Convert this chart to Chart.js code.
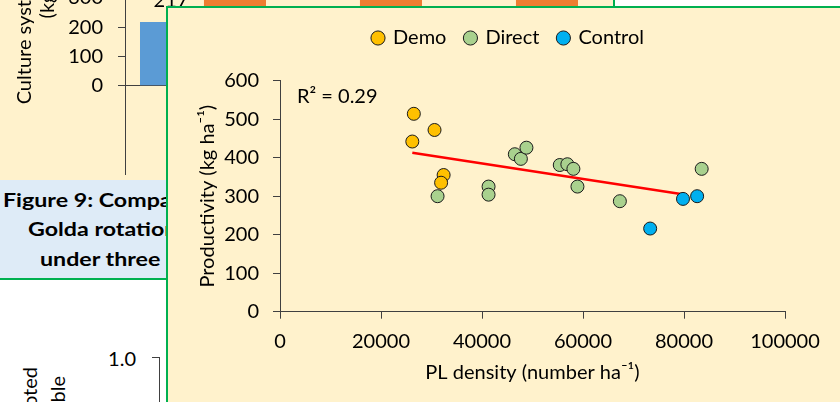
<!DOCTYPE html>
<html><head><meta charset="utf-8">
<script src="https://cdn.jsdelivr.net/npm/chart.js@4.4.1/dist/chart.umd.min.js"></script>
<style>
html,body{margin:0;padding:0;background:#fff;}
body{width:840px;height:402px;overflow:hidden;position:relative;font-family:Lato,"Liberation Sans",sans-serif;color:#000;}
.abs{position:absolute;}
#yel{left:0;top:0;width:613px;height:180px;background:#FFF2CC;border-right:2px solid #00B050;z-index:0;}
#bgwrap{left:0;top:-235px;width:613px;height:436px;z-index:1;}
#cap{left:0;top:180px;width:615px;height:98px;background:#DEEBF7;border-bottom:2px solid #00B050;overflow:hidden;z-index:2;}
.capl{position:absolute;font-weight:bold;font-size:19.5px;white-space:nowrap;line-height:19px;transform:scaleX(1.19);transform-origin:0 0;}
.rot{position:absolute;width:300px;height:24px;line-height:24px;font-size:20px;white-space:nowrap;text-align:right;transform:rotate(-90deg);transform-origin:0 0;z-index:2;}
#one{left:96px;top:346px;width:40px;height:24px;line-height:24px;font-size:20px;text-align:right;z-index:2;}
#tick1{left:152px;top:357px;width:8px;height:1px;background:#404040;z-index:2;}
#axis1{left:159px;top:357px;width:1px;height:60px;background:#404040;z-index:2;}
#box{left:166px;top:6px;width:700px;height:420px;background:#FFF2CC;border:2px solid #00B050;box-sizing:border-box;z-index:3;}
#mainwrap{left:169px;top:9px;width:671px;height:393px;z-index:4;}
</style>
</head>
<body>
<div id="yel" class="abs"></div>
<div id="bgwrap" class="abs"><canvas id="bg" width="613" height="436"></canvas></div>
<div id="cap" class="abs">
  <div class="capl" style="left:3px;top:10px;">Figure 9: Comparison of culture</div>
  <div class="capl" style="left:28px;top:39px;">Golda rotation</div>
  <div class="capl" style="left:40px;top:69px;">under three</div>
</div>
<div id="one" class="abs">1.0</div>
<div id="tick1" class="abs"></div>
<div id="axis1" class="abs"></div>
<div class="rot" style="left:17px;top:667px;">Proportion promoted</div>
<div class="rot" style="left:45px;top:676px;">of applicable</div>
<div id="box" class="abs"></div>
<div id="mainwrap" class="abs"><canvas id="main" width="671" height="393"></canvas></div>

<script>
// ---------- main scatter data ----------
const demoX    = [26500, 30600, 26200, 32400, 31900];
const demoY    = [514, 472, 442, 355, 335];
const directX  = [31200, 41300, 41300, 46500, 47700, 48800, 55400, 56900, 58100, 58900, 67300, 83500];
const directY  = [300, 325, 304, 409, 397, 426, 381, 383, 371, 325, 287, 371];
const controlX = [73300, 79800, 82600];
const controlY = [216, 293, 300];
const trendX   = [26200, 79700];
const trendY   = [413, 305];
const xTickValues = [0, 20000, 40000, 60000, 80000, 100000];
const yTickValues = [0, 100, 200, 300, 400, 500, 600];
const rSquaredLabel = 'R\u00B2 = 0.29';

// ---------- background (partially hidden) bar chart data ----------
const bgCategories = ['Demo', 'Direct', 'Control'];
const bgSeriesNames = ['Golda', 'Rotation'];
const bgSeriesA = [217, 250, 245];
const bgSeriesB = [560, 610, 585];
const bgYTicks = [-300, -200, -100, 0, 100, 200, 300, 400, 500, 600, 700, 800, 900, 1000];

const FONT = 'Lato, "Liberation Sans", sans-serif';
Chart.defaults.font.family = FONT;
Chart.defaults.font.size = 20;
Chart.defaults.color = '#000';
const AX = '#404040';

function pts(xs, ys){ return xs.map((x, i) => ({x: x, y: ys[i]})); }

// background bar chart
const barLabels = {
  id: 'barLabels',
  afterDatasetsDraw(chart){
    const ctx = chart.ctx;
    ctx.save();
    ctx.font = '20px ' + FONT;
    ctx.fillStyle = '#000';
    ctx.textAlign = 'center';
    ctx.textBaseline = 'alphabetic';
    chart.data.datasets.forEach((ds, i) => {
      chart.getDatasetMeta(i).data.forEach((el, j) => {
        ctx.fillText(String(ds.data[j]), el.x, el.y - 15);
      });
    });
    ctx.restore();
  }
};

new Chart(document.getElementById('bg'), {
  type: 'bar',
  data: {
    labels: bgCategories,
    datasets: [
      {label: bgSeriesNames[0], data: bgSeriesA, backgroundColor: '#5B9BD5', categoryPercentage: 0.82, barPercentage: 0.97},
      {label: bgSeriesNames[1], data: bgSeriesB, backgroundColor: '#ED7D31', categoryPercentage: 0.82, barPercentage: 0.97}
    ]
  },
  options: {
    responsive: false, animation: false,
    layout: {padding: {left: 0, right: 20, top: 0, bottom: 0}},
    plugins: {legend: {display: false}, tooltip: {enabled: false}},
    scales: {
      x: {position: {y: 0}, grid: {display: false}, border: {display: true, color: AX}, ticks: {display: false},
          afterFit: s => { s.height = 0; }},
      y: {
        min: -300, max: 1000,
        afterBuildTicks: s => { s.ticks = bgYTicks.map(v => ({value: v})); },
        ticks: {callback: v => (v >= 0 ? String(v) : ''), padding: 15, color: '#000', font: {size: 20}},
        grid: {drawOnChartArea: false, drawTicks: true, tickLength: 7, color: AX,
               tickColor: c => (c.tick && c.tick.value < 0) ? 'rgba(0,0,0,0)' : AX},
        border: {display: true, color: AX},
        title: {display: true, text: ['Culture system productivity', '(kg ha\u207B\u00B9)'], color: '#000',
                font: {size: 20, lineHeight: 1.15}, padding: {top: 13, bottom: 4}},
        afterFit: s => { s.width = 125; }
      }
    }
  },
  plugins: [barLabels]
});

// main scatter chart
const LEGEND_HEIGHT = 71.7;
const legendFix = {
  id: 'legendFix',
  beforeLayout(chart){
    const lg = chart.legend;
    if (lg && !lg.__fixed){
      const f = lg.fit.bind(lg);
      lg.fit = function(){
        f();
        this.height = LEGEND_HEIGHT;
        if (this.lineWidths && this.lineWidths.length) this.lineWidths[0] -= 40;
      };
      lg.__fixed = true;
    }
  }
};
const r2Plugin = {
  id: 'r2',
  afterDatasetsDraw(chart){
    const {ctx, chartArea} = chart;
    ctx.save();
    ctx.font = '20px ' + FONT;
    ctx.fillStyle = '#000';
    ctx.textAlign = 'left';
    ctx.textBaseline = 'alphabetic';
    ctx.fillText(rSquaredLabel, chartArea.left + 17, chartArea.top + 22);
    ctx.restore();
  }
};

const ptStyle = {borderColor: '#1a1a1a', borderWidth: 1, pointRadius: 6.5, pointHoverRadius: 6.5, pointStyle: 'circle', order: 1};

new Chart(document.getElementById('main'), {
  type: 'scatter',
  data: {
    datasets: [
      Object.assign({label: 'Demo', data: pts(demoX, demoY), backgroundColor: '#FFC000'}, ptStyle),
      Object.assign({label: 'Direct', data: pts(directX, directY), backgroundColor: '#A9D18E'}, ptStyle),
      Object.assign({label: 'Control', data: pts(controlX, controlY), backgroundColor: '#00B0F0'}, ptStyle),
      {label: 'Trend', type: 'line', data: pts(trendX, trendY), borderColor: '#FF0000', backgroundColor: '#FF0000',
       borderWidth: 2.5, pointRadius: 0, showLine: true, fill: false, order: 5}
    ]
  },
  options: {
    responsive: false, animation: false,
    layout: {padding: {left: 23, right: 55, top: 0, bottom: 13}},
    plugins: {
      tooltip: {enabled: false},
      legend: {
        position: 'top',
        labels: {usePointStyle: true, pointStyle: 'circle', boxWidth: 10, boxHeight: 10, padding: 19,
                 color: '#000', font: {size: 20}, filter: it => it.text !== 'Trend'}
      }
    },
    scales: {
      x: {
        type: 'linear', min: 0, max: 100000,
        afterBuildTicks: s => { s.ticks = xTickValues.map(v => ({value: v})); },
        ticks: {callback: v => String(v), padding: 11, color: '#000', font: {size: 20}, maxRotation: 0, autoSkip: false},
        grid: {drawOnChartArea: false, drawTicks: true, tickLength: 7, color: AX},
        border: {display: true, color: AX, width: 1},
        title: {display: true, text: 'PL density (number ha\u207B\u00B9)', color: '#000', font: {size: 20}, padding: {top: 4, bottom: 4}},
        afterFit: s => { s.height = 77.3; }
      },
      y: {
        min: 0, max: 600,
        afterBuildTicks: s => { s.ticks = yTickValues.map(v => ({value: v})); },
        ticks: {callback: v => String(v), padding: 14, color: '#000', font: {size: 20}},
        grid: {drawOnChartArea: false, drawTicks: true, tickLength: 7, color: AX},
        border: {display: true, color: AX, width: 1},
        title: {display: true, text: 'Productivity (kg ha\u207B\u00B9)', color: '#000', font: {size: 20}, padding: {top: 4, bottom: 4}},
        afterFit: s => { s.width = 88; }
      }
    }
  },
  plugins: [legendFix, r2Plugin]
});
</script>
</body></html>
